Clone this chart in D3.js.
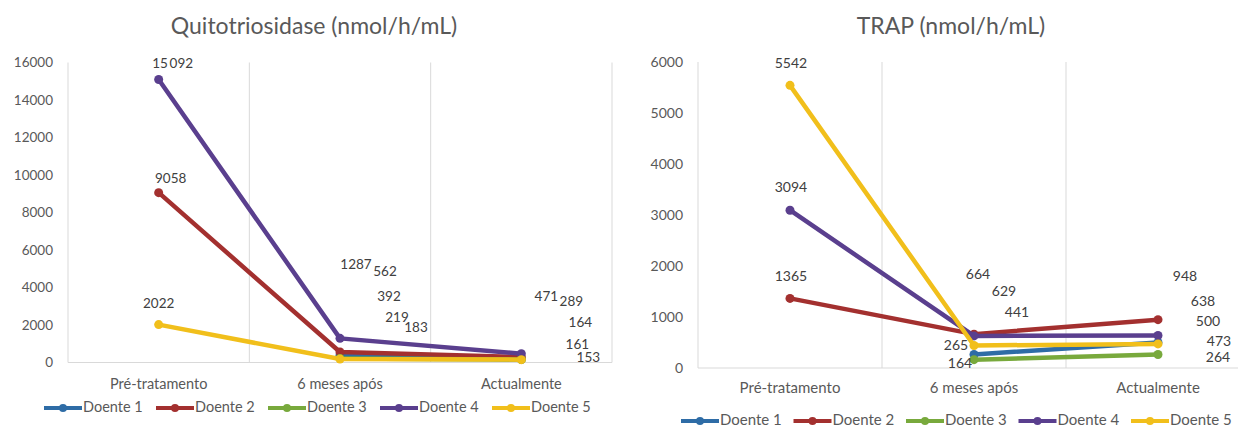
<!DOCTYPE html>
<html>
<head>
<meta charset="utf-8">
<script src="https://cdn.jsdelivr.net/npm/d3@7"></script>
<style>
  html, body { margin: 0; padding: 0; background: #fff; }
  svg text { font-family: Lato, "Open Sans", sans-serif; }
</style>
</head>
<body>
<svg id="chart" width="1238" height="427"></svg>
<script>
// categorias e séries
const categories = ["Pré-tratamento", "6 meses após", "Actualmente"];
const patients = ["Doente 1", "Doente 2", "Doente 3", "Doente 4", "Doente 5"];
const colors = ["#2e6ca6", "#a3302f", "#78a93c", "#5a3f8e", "#f1bf1b"];

// Quitotriosidase (nmol/h/mL)
const quitoDoente1 = [null, 392, 164];
const quitoDoente2 = [9058, 562, 289];
const quitoDoente3 = [null, 219, 161];
const quitoDoente4 = [15092, 1287, 471];
const quitoDoente5 = [2022, 183, 153];
const quitoTicks = [0, 2000, 4000, 6000, 8000, 10000, 12000, 14000, 16000];

// TRAP (nmol/h/mL)
const trapDoente1 = [null, 265, 500];
const trapDoente2 = [1365, 664, 948];
const trapDoente3 = [null, 164, 264];
const trapDoente4 = [3094, 629, 638];
const trapDoente5 = [5542, 441, 473];
const trapTicks = [0, 1000, 2000, 3000, 4000, 5000, 6000];

// deslocamento manual das etiquetas (px, relativo ao ponto)
const quitoNudge = [
    [null, [49, -58], [59, -36]],
    [[12, -13], [45, -79], [50, -55]],
    [null, [57, -40], [56, -14]],
    [[14, -15], [16, -73], [25, -56]],
    [[0, -20], [76, -30], [67, -1]]
];
const trapNudge = [
    [null, [-18, -8], [50, -20]],
    [[1, -21], [4, -59], [27, -42]],
    [null, [-14, 5], [60, 4]],
    [[1, -22], [30, -43], [45, -33]],
    [[1, -21], [43, -32], [61, -1]]
];

const fmt = v => d3.format(",")(v).replace(/,/g, "\u2009");

const svg = d3.select("#chart");

function drawChart(opts) {
    const g = svg.append("g");

    const x = d3.scaleBand()
        .domain(categories)
        .range([opts.left, opts.right]);

    const y = d3.scaleLinear()
        .domain([0, d3.max(opts.ticks)])
        .range([opts.bottom, opts.top]);

    // título
    g.append("text")
        .attr("x", opts.titleX)
        .attr("y", opts.titleY)
        .attr("text-anchor", "middle")
        .attr("dominant-baseline", "middle")
        .style("font-size", opts.titleSize + "px")
        .style("fill", "#595959")
        .text(opts.title);

    // linhas verticais de separação das categorias
    const bounds = categories.map(c => x(c)).concat([opts.right]);
    g.selectAll("line.vgrid")
        .data(bounds)
        .join("line")
        .attr("class", "vgrid")
        .attr("x1", d => d).attr("x2", d => d)
        .attr("y1", opts.top).attr("y2", opts.bottom)
        .attr("stroke", "#d9d9d9")
        .attr("stroke-width", 1);

    // eixo y (só etiquetas)
    const yAxis = d3.axisLeft(y)
        .tickValues(opts.ticks)
        .tickSize(0)
        .tickPadding(0)
        .tickFormat(d3.format("d"));

    const ya = g.append("g")
        .attr("transform", `translate(${opts.tickX},0)`)
        .call(yAxis);
    ya.select(".domain").remove();
    ya.selectAll("text")
        .style("font-family", "Lato, sans-serif")
        .style("font-size", opts.tickSize + "px")
        .style("fill", "#595959");

    // linha de base
    g.append("line")
        .attr("x1", opts.left).attr("x2", opts.right)
        .attr("y1", y(0)).attr("y2", y(0))
        .attr("stroke", "#d9d9d9")
        .attr("stroke-width", 1);

    // eixo x (só etiquetas)
    const xAxis = d3.axisBottom(x).tickSize(0).tickPadding(0);
    const xa = g.append("g")
        .attr("transform", `translate(0,${opts.catY})`)
        .call(xAxis);
    xa.select(".domain").remove();
    xa.selectAll("text")
        .attr("dy", "0.32em")
        .attr("y", 0)
        .style("font-family", "Lato, sans-serif")
        .style("font-size", opts.catSize + "px")
        .style("fill", "#595959");

    const cx = c => x(c) + x.bandwidth() / 2;

    const seriesData = opts.series.map((vals, i) => ({
        name: patients[i],
        color: colors[i],
        points: vals.map((v, j) => ({ cat: categories[j], value: v, nudge: opts.nudge[i][j] }))
    }));

    const line = d3.line()
        .defined(d => d.value != null)
        .x(d => cx(d.cat))
        .y(d => y(d.value));

    const sg = g.selectAll("g.series")
        .data(seriesData)
        .join("g")
        .attr("class", "series");

    sg.append("path")
        .attr("d", d => line(d.points))
        .attr("fill", "none")
        .attr("stroke", d => d.color)
        .attr("stroke-width", 4.5)
        .attr("stroke-linejoin", "round")
        .attr("stroke-linecap", "round");

    sg.selectAll("circle")
        .data(d => d.points.filter(p => p.value != null).map(p => ({ ...p, color: d.color })))
        .join("circle")
        .attr("cx", d => cx(d.cat))
        .attr("cy", d => y(d.value))
        .attr("r", 4.5)
        .attr("fill", d => d.color);

    // etiquetas de dados
    const labels = seriesData.flatMap(s => s.points.filter(p => p.value != null));
    g.selectAll("text.dlabel")
        .data(labels)
        .join("text")
        .attr("class", "dlabel")
        .attr("x", d => cx(d.cat) + d.nudge[0])
        .attr("y", d => y(d.value) + d.nudge[1])
        .attr("text-anchor", "middle")
        .attr("dominant-baseline", "middle")
        .style("font-size", opts.labelSize + "px")
        .style("fill", "#404040")
        .text(d => d.value >= 10000 ? fmt(d.value) : String(d.value));

    // legenda
    const legend = g.append("g")
        .attr("transform", `translate(${opts.legendX},${opts.legendY})`);
    const item = legend.selectAll("g")
        .data(patients)
        .join("g")
        .attr("transform", (d, i) => `translate(${i * opts.legendStep},0)`);
    item.append("line")
        .attr("x1", 0).attr("x2", 38)
        .attr("stroke", (d, i) => colors[i])
        .attr("stroke-width", 4);
    item.append("circle")
        .attr("cx", 19).attr("r", 4)
        .attr("fill", (d, i) => colors[i]);
    item.append("text")
        .attr("x", 39)
        .attr("dominant-baseline", "middle")
        .style("font-size", opts.legendSize + "px")
        .style("fill", "#595959")
        .text(d => d);
}

drawChart({
    title: "Quitotriosidase (nmol/h/mL)",
    series: [quitoDoente1, quitoDoente2, quitoDoente3, quitoDoente4, quitoDoente5],
    ticks: quitoTicks,
    nudge: quitoNudge,
    left: 68, right: 612, top: 62.5, bottom: 362.5,
    titleX: 314, titleY: 28, titleSize: 23,
    tickX: 53, tickSize: 13.5,
    catY: 384, catSize: 14.5,
    labelSize: 13.5,
    legendX: 44, legendY: 408, legendStep: 112, legendSize: 14.5
});

drawChart({
    title: "TRAP (nmol/h/mL)",
    series: [trapDoente1, trapDoente2, trapDoente3, trapDoente4, trapDoente5],
    ticks: trapTicks,
    nudge: trapNudge,
    left: 698, right: 1250, top: 62, bottom: 368,
    titleX: 951, titleY: 28, titleSize: 23,
    tickX: 683, tickSize: 14,
    catY: 388, catSize: 15,
    labelSize: 14,
    legendX: 681, legendY: 421, legendStep: 112.5, legendSize: 15
});
</script>
</body>
</html>
